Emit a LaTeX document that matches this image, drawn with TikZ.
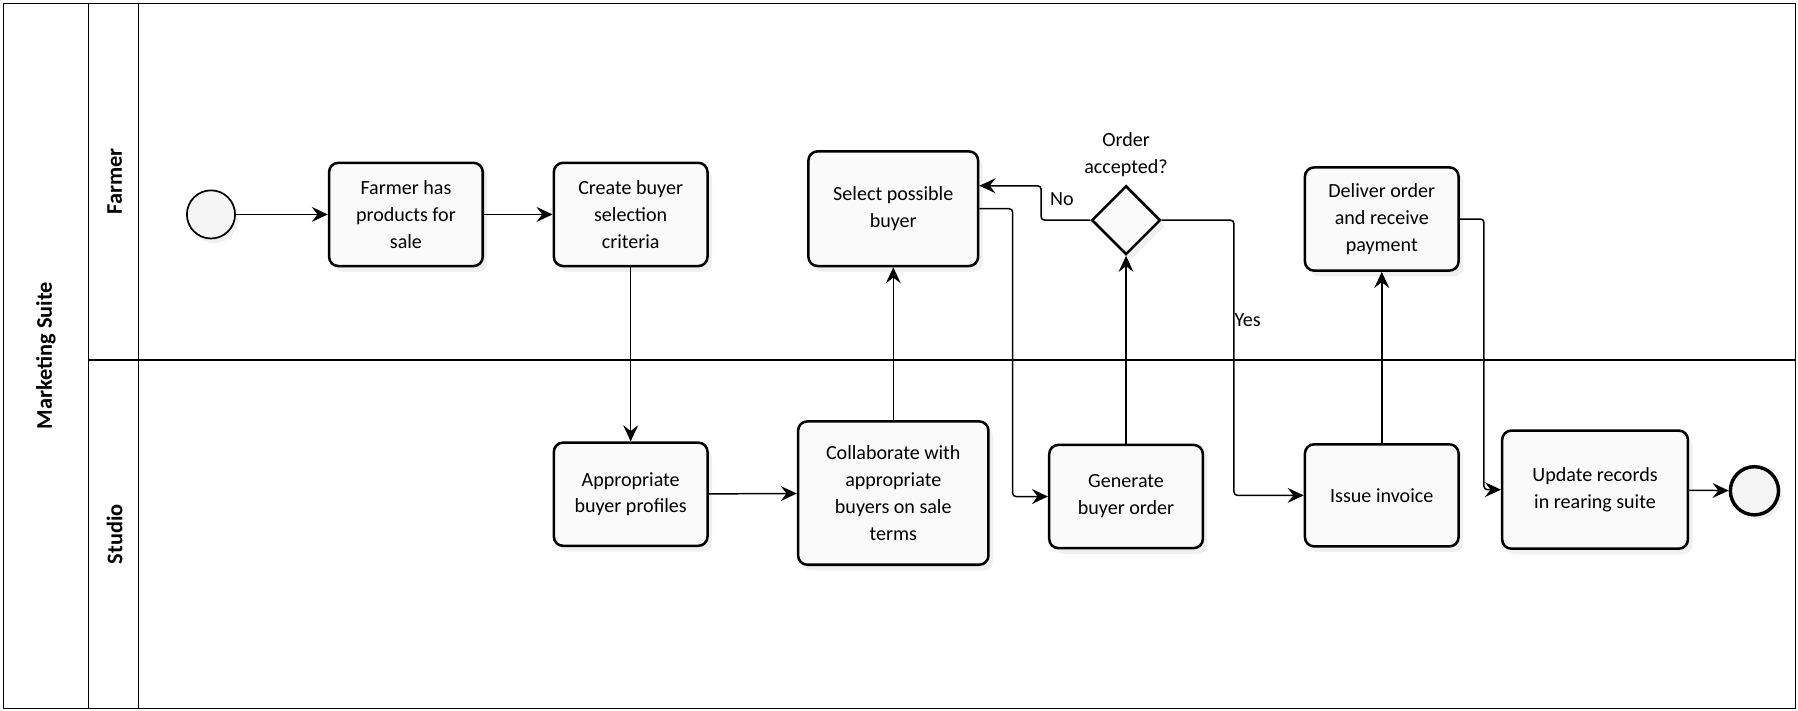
\documentclass[tikz,border=0pt]{standalone}
\usepackage{fontspec}
\setmainfont{Carlito}
\usetikzlibrary{arrows.meta,shapes.geometric,shadows}
\begin{document}
\begin{tikzpicture}[x=1pt,y=-1pt,
  task/.style={draw, line width=2.2pt, rounded corners=8pt, fill=black!2, align=center,
    inner sep=0pt, font=\fontsize{17.5}{23.5}\selectfont,
    drop shadow={opacity=0.12, shadow xshift=4pt, shadow yshift=-5pt}},
  flow/.style={line width=1.3pt, -{Stealth[length=14pt,width=13pt,inset=5pt]}, rounded corners=3pt},
  lbl/.style={font=\fontsize{17.5}{23.5}\selectfont, align=center},
  lanelbl/.style={font=\bfseries\fontsize{19.5}{22}\selectfont, rotate=90},
  evt/.style={circle, draw, minimum size=42pt, inner sep=0pt, fill=black!4,
    drop shadow={opacity=0.12, shadow xshift=3pt, shadow yshift=-4pt}}
]
\useasboundingbox (0,0) rectangle (1568,620);
% pool and lanes
\draw[line width=1pt] (3,3) rectangle (1566,618);
\draw[line width=1pt] (77,3) -- (77,618);
\draw[line width=1pt] (121,3) -- (121,618);
\draw[line width=1pt] (77,314) -- (1566,314);
\node[lanelbl] (pool) at (40,310) {Marketing Suite};
\node[lanelbl] (farmer) at (100,158) {Farmer};
\node[lanelbl] (studio) at (100,466) {Studio};
% events
\node[evt, line width=1.5pt] (start) at (184,187) {};
\node[evt, line width=3pt] (end) at (1530,428) {};
% tasks
\node[task, minimum width=134pt, minimum height=90pt] (t1) at (354,187) {Farmer has\\products for\\sale};
\node[task, minimum width=134pt, minimum height=90pt] (t2) at (550,187) {Create buyer\\selection\\criteria};
\node[task, minimum width=134pt, minimum height=90pt] (t3) at (550,431) {Appropriate\\buyer profiles};
\node[task, minimum width=166pt, minimum height=125pt] (t4) at (779,430) {Collaborate with\\appropriate\\buyers on sale\\terms};
\node[task, minimum width=148pt, minimum height=100pt] (t5) at (779,182) {Select possible\\buyer};
\node[task, minimum width=134pt, minimum height=90pt] (t6) at (982,433) {Generate\\buyer order};
\node[diamond, draw, line width=2.2pt, minimum width=60pt, minimum height=60pt, inner sep=0pt,
  fill=black!2, drop shadow={opacity=0.12, shadow xshift=4pt, shadow yshift=-5pt}] (gw) at (982,192) {};
\node[lbl] (gwlbl) at (982,135) {Order\\accepted?};
\node[task, minimum width=134pt, minimum height=89pt] (t8) at (1205,432) {Issue invoice};
\node[task, minimum width=134pt, minimum height=90pt] (t9) at (1205,191) {Deliver order\\and receive\\payment};
\node[task, minimum width=162pt, minimum height=103pt] (t10) at (1391,427) {Update records\\in rearing suite};
% flows
\draw[flow] (start) -- (t1);
\draw[flow] (t1) -- (t2);
\draw[flow] (t2) -- (t3);
\draw[flow] (t3) -- (t4);
\draw[flow] (t4) -- (t5);
\draw[flow] (t5.east) -- ++(29,0) |- (t6);
\draw[flow] (t6) -- (gw);
\draw[flow] (gw.west) -- ++(-43,0) |- ([yshift=20pt]t5.east);
\draw[flow] (gw.east) -- ++(63,0) |- (t8);
\draw[flow] (t8) -- (t9);
\draw[flow] (t9.east) -- ++(21,0) |- (t10);
\draw[flow] (t10) -- (end);
\node[lbl] (no) at (926,174) {No};
\node[lbl] (yes) at (1088,279) {Yes};
\end{tikzpicture}
\end{document}
